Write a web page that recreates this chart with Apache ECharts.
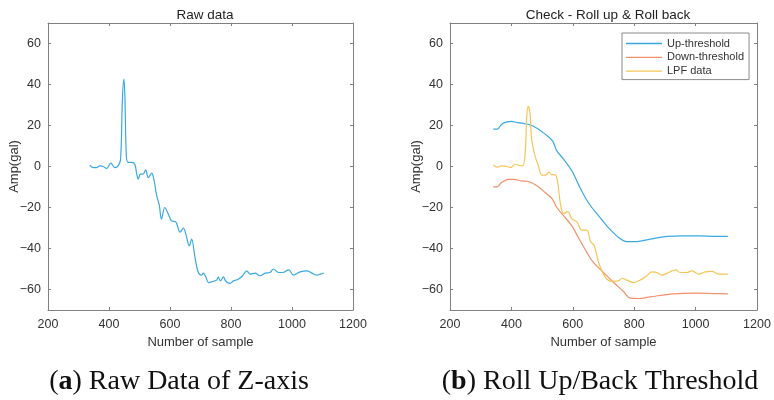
<!DOCTYPE html>
<html>
<head>
<meta charset="utf-8">
<script src="https://cdn.jsdelivr.net/npm/echarts@6/dist/echarts.min.js"></script>
<style>
  html, body { margin: 0; padding: 0; background: #fff; }
  #chart { width: 774px; height: 400px; }
</style>
</head>
<body>
<div id="chart"></div>
<script>
// (a) raw data of Z-axis
const rawX = [337, 348, 359, 370, 381, 392, 406, 419, 430, 438, 444, 449, 452, 457, 463, 474, 485, 490, 496, 503, 512, 520, 529, 540, 547, 556, 565, 572, 583, 594, 605, 619, 633, 644, 652, 663, 671, 682, 693, 704, 709, 718, 726, 742, 753, 758, 766, 775, 783, 797, 808, 824, 838, 852, 863, 879, 895, 912, 928, 939, 956, 970, 989, 1005, 1027, 1049, 1065, 1082, 1093, 1104]
const rawY = [0.6, -0.5, -0.5, 0.3, 0, -1, 1.6, -0.5, 0.3, 3.6, 33, 42.6, 34.5, 5, 2, 2, 1, -3, -6.2, -3.7, -3.7, -1.6, -5.4, -3.2, -6.2, -14, -19, -25.7, -20, -23, -26.5, -27, -32, -30, -33, -38.7, -35.4, -44.4, -51.7, -53, -52, -54, -56.6, -56, -55.4, -54, -55.8, -53.8, -56, -57, -55.8, -55, -53.3, -50.9, -52.5, -52, -53.3, -52, -51.7, -50, -51.7, -51.7, -50.4, -53, -51.4, -50.9, -52, -53, -52.5, -52]

// (b) thresholds + low-pass filtered data
const upX = [341, 354, 368, 385, 401, 417, 439, 461, 483, 510, 534, 548, 570, 597, 618, 640, 662, 689, 716, 749, 776, 809, 852, 907, 961, 1015, 1059, 1105]
const upY = [18.2, 18.2, 20.6, 21.8, 22, 21.5, 21, 20.3, 18.7, 15.8, 12.5, 7.6, 3.6, -2.1, -8.6, -15, -20, -24.9, -29.8, -34.6, -36.6, -36.6, -35.4, -34.1, -33.8, -33.8, -34.1, -34.1]
const downX = [341, 354, 368, 390, 407, 434, 461, 483, 510, 534, 548, 570, 597, 618, 646, 667, 700, 733, 765, 787, 814, 852, 928, 1004, 1059, 1105]
const downY = [-9.9, -9.9, -7.8, -6.3, -6.3, -7, -7.6, -9.4, -12.7, -16, -20, -24, -29, -34.6, -42, -46.8, -51.7, -56.6, -61, -64.2, -64.4, -63.6, -62.1, -61.8, -62, -62.1]
const lpfX = [341, 354, 368, 385, 398, 412, 423, 437, 445, 450, 455, 461, 466, 477, 488, 499, 510, 523, 532, 542, 551, 559, 570, 584, 597, 613, 629, 646, 657, 670, 684, 700, 711, 727, 749, 760, 776, 798, 820, 841, 858, 874, 890, 912, 934, 950, 972, 988, 1010, 1031, 1053, 1075, 1105]
const lpfY = [0.6, -0.3, 0.3, 0, -0.5, 1.1, 0.6, 0.3, 6.8, 24.7, 29.3, 25.5, 13.3, 5.2, 0.3, -4.2, -4.2, -2.9, -4, -4, -7.8, -17.6, -22.9, -22, -25.7, -27, -31, -31, -36.3, -38.7, -46.8, -52.5, -55, -56, -55.8, -54.5, -55.4, -56.6, -55.4, -53.3, -51.4, -51.7, -53, -51.7, -50.4, -51.7, -51.7, -50.9, -52.5, -51.4, -51.2, -52.5, -52.5]

const xTicks = { min: 200, max: 1200, interval: 200 }
const yRange = { min: -70, max: 70, step: 20 }

const titles = ['Raw data', 'Check - Roll up & Roll back']
const captions = [['a', ' Raw Data of Z-axis'], ['b', ' Roll Up/Back Threshold']]

const boxGray = '#808080'
const textGray = '#333333'
const blue = '#3aa9e2'
const orange = '#f4906b'
const yellow = '#f7c555'
const sans = 'Liberation Sans'

function zip(xs, ys) {
  return xs.map((x, i) => [x, ys[i]])
}

function minus(v) {
  return v < 0 ? '\u2212' + Math.abs(v) : String(v)
}

/** x axes: labelled bottom + bare top (MATLAB box) */
function xAxes(gridIndex) {
  const base = {
    type: 'value', gridIndex, min: xTicks.min, max: xTicks.max, interval: xTicks.interval,
    splitLine: { show: false },
    axisLine: { onZero: false, lineStyle: { color: boxGray, width: 1 } },
    axisTick: { inside: true, length: 3, lineStyle: { color: boxGray } }
  }
  return [
    Object.assign({}, base, {
      position: 'bottom',
      name: 'Number of sample', nameLocation: 'middle', nameGap: 26, nameMoveOverlap: false,
      nameTextStyle: { color: textGray, fontSize: 13, fontFamily: sans },
      axisLabel: { color: textGray, fontSize: 12.5, fontFamily: sans, margin: 8, formatter: v => String(v) }
    }),
    Object.assign({}, base, { position: 'top', axisLabel: { show: false } })
  ]
}

function yAxes(gridIndex) {
  const base = {
    type: 'value', gridIndex, min: yRange.min, max: yRange.max, splitNumber: 7,
    splitLine: { show: false },
    axisLine: { onZero: false, lineStyle: { color: boxGray, width: 1 } },
    axisTick: { inside: true, length: 3, lineStyle: { color: boxGray } }
  }
  return [
    Object.assign({}, base, {
      position: 'left',
      name: 'Amp(gal)', nameLocation: 'middle', nameGap: 27, nameMoveOverlap: false,
      nameTextStyle: { color: textGray, fontSize: 13, fontFamily: sans },
      axisLabel: {
        color: textGray, fontSize: 12.5, fontFamily: sans, margin: 7,
        showMinLabel: false, showMaxLabel: false,
        formatter: v => (v % yRange.step === 0 ? minus(v) : '')
      }
    }),
    Object.assign({}, base, { position: 'right', axisLabel: { show: false } })
  ]
}

function line(name, xs, ys, color, axisIdx) {
  return {
    name, type: 'line', data: zip(xs, ys),
    xAxisIndex: axisIdx, yAxisIndex: axisIdx,
    symbol: 'none', smooth: 0.35,
    lineStyle: { color, width: 1.2 }, itemStyle: { color },
    animation: false
  }
}

const chart = echarts.init(document.getElementById('chart'))

chart.setOption({
  backgroundColor: '#fff',
  animation: false,
  title: [
    { text: titles[0], left: 200, top: 3, textAlign: 'center',
      textStyle: { fontSize: 13.5, fontWeight: 'normal', color: '#222', fontFamily: sans } },
    { text: titles[1], left: 603, top: 3, textAlign: 'center',
      textStyle: { fontSize: 13.5, fontWeight: 'normal', color: '#222', fontFamily: sans } },
    ...captions.map((c, i) => ({
      text: '({b|' + c[0] + '})' + c[1],
      left: i === 0 ? 174 : 595, top: 363, textAlign: 'center',
      textStyle: {
        fontSize: 28, fontWeight: 'normal', color: '#111', fontFamily: 'Liberation Serif',
        rich: { b: { fontSize: 28, fontWeight: 'bold', color: '#111', fontFamily: 'Liberation Serif' } }
      }
    }))
  ],
  legend: {
    data: ['Up-threshold', 'Down-threshold', 'LPF data'],
    orient: 'vertical', left: 622, top: 33,
    padding: [5, 5, 3, 4], itemGap: 2.8,
    icon: 'rect', itemWidth: 36, itemHeight: 1.3,
    backgroundColor: '#fff', borderColor: '#8a8a8a', borderWidth: 1, borderRadius: 0,
    textStyle: { color: textGray, fontSize: 11, fontFamily: sans }
  },
  grid: [
    { left: 48, top: 23, width: 305, height: 287 },
    { left: 450, top: 23, width: 307, height: 287 }
  ],
  xAxis: [...xAxes(0), ...xAxes(1)],
  yAxis: [...yAxes(0), ...yAxes(1)],
  series: [
    line('Raw', rawX, rawY, blue, 0),
    line('Up-threshold', upX, upY, blue, 2),
    line('Down-threshold', downX, downY, orange, 2),
    line('LPF data', lpfX, lpfY, yellow, 2)
  ]
})
</script>
</body>
</html>
